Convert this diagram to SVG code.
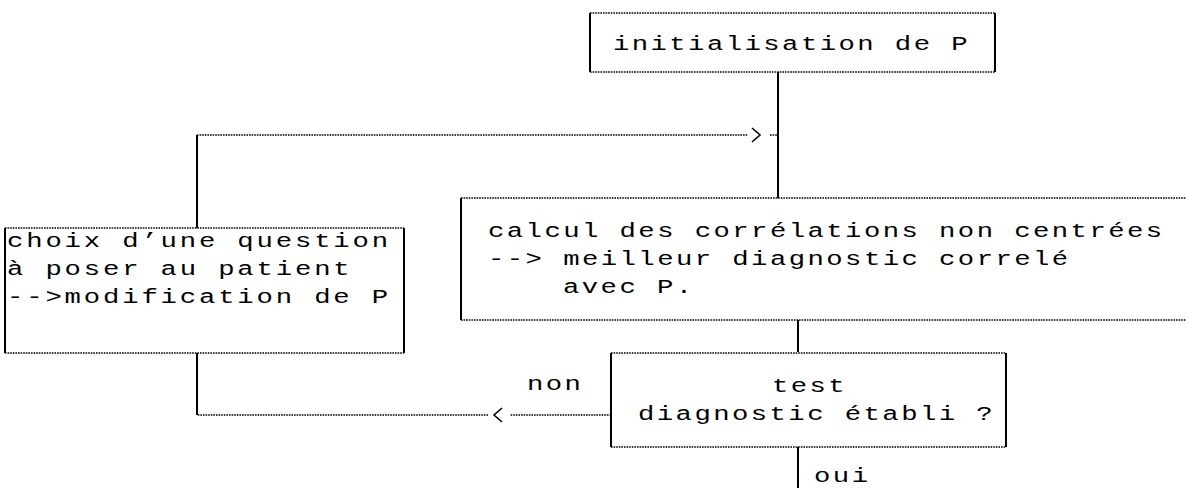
<svg xmlns="http://www.w3.org/2000/svg" width="1186" height="488" viewBox="0 0 1186 488">
<style>
.bg{fill:#fff}
.hd{stroke:#000;stroke-width:1.6;stroke-dasharray:1.6,1;fill:none}
.vs{stroke:#000;stroke-width:2;fill:none}
.ch{stroke:#000;stroke-width:1.6;fill:none}
text{font-family:"Liberation Mono","DejaVu Sans Mono",monospace;font-size:21px;letter-spacing:1.86px;fill:#000}
.wide{letter-spacing:2.17px}
</style>
<rect class="bg" x="0" y="0" width="1186" height="488"/>
<g id="connectors">
<line class="vs" x1="778" y1="72" x2="778" y2="198"/>
<line class="vs" x1="197" y1="228" x2="197" y2="135"/>
<line class="hd" x1="197" y1="135" x2="748" y2="135"/>
<polyline class="ch" points="752,128 760,135 752,142"/>
<line class="hd" x1="770" y1="135" x2="778" y2="135"/>
<line class="vs" x1="798" y1="320" x2="798" y2="352"/>
<line class="vs" x1="798" y1="447" x2="798" y2="488"/>
<line class="hd" x1="611" y1="415" x2="510" y2="415"/>
<polyline class="ch" points="502,408 494,415 502,422"/>
<line class="hd" x1="488" y1="415" x2="197" y2="415"/>
<line class="vs" x1="197" y1="415" x2="197" y2="353"/>
<g transform="scale(1.3,1)">
<text x="405.4" y="390">non</text>
<text x="626.2" y="482">oui</text>
</g>
</g>
<g id="init">
<line class="hd" x1="590" y1="13" x2="995" y2="13"/>
<line class="hd" x1="590" y1="72" x2="995" y2="72"/>
<line class="vs" x1="590" y1="13" x2="590" y2="72"/>
<line class="vs" x1="995" y1="13" x2="995" y2="72"/>
<g transform="scale(1.3,1)">
<text x="471.5" y="50">initialisation de P</text>
</g>
</g>
<g id="calcul">
<line class="hd" x1="461" y1="198" x2="1186" y2="198"/>
<line class="hd" x1="461" y1="320" x2="1186" y2="320"/>
<line class="vs" x1="461" y1="198" x2="461" y2="320"/>
<g transform="scale(1.3,1)">
<text x="375.4" y="237">calcul des corrélations non centrées</text>
<text x="375.4" y="265">--&gt; meilleur diagnostic correlé</text>
<text x="433.1" y="293">avec P.</text>
</g>
</g>
<g id="choix">
<line class="hd" x1="5" y1="228" x2="404" y2="228"/>
<line class="hd" x1="5" y1="353" x2="404" y2="353"/>
<line class="vs" x1="5" y1="228" x2="5" y2="353"/>
<line class="vs" x1="404" y1="228" x2="404" y2="353"/>
<g transform="scale(1.3,1)">
<text class="wide" x="5.4" y="247">choix d’une question</text>
<text class="wide" x="5.4" y="275">à poser au patient</text>
<text class="wide" x="5.4" y="303">--&gt;modification de P</text>
</g>
</g>
<g id="test">
<line class="hd" x1="611" y1="353" x2="1006" y2="353"/>
<line class="hd" x1="611" y1="447" x2="1006" y2="447"/>
<line class="vs" x1="611" y1="353" x2="611" y2="447"/>
<line class="vs" x1="1006" y1="353" x2="1006" y2="447"/>
<g transform="scale(1.3,1)">
<text x="593.8" y="392">test</text>
<text x="490.8" y="420">diagnostic établi ?</text>
</g>
</g>
</svg>
